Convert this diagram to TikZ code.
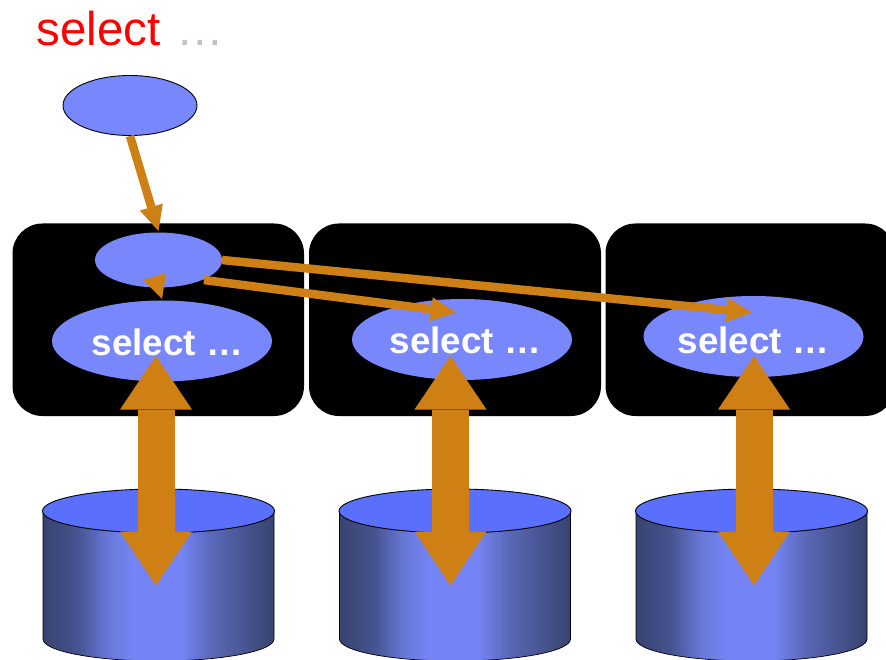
\documentclass[tikz,border=0pt]{standalone}
\usepackage{fontspec}
\setmainfont{Liberation Sans}
\usetikzlibrary{arrows.meta,shapes.geometric}
\definecolor{arrowc}{HTML}{CF8014}
\definecolor{ellc}{HTML}{7888FC}
\definecolor{cylmid}{HTML}{7484F4}
\definecolor{topc}{HTML}{5A70FC}
\definecolor{cdark}{HTML}{38436F}
\definecolor{cdim}{HTML}{46538F}
\definecolor{cmid}{HTML}{6878D8}
\definecolor{cright}{HTML}{5A68B8}
\pgfdeclarehorizontalshading{cylshade}{100bp}{
  color(0bp)=(cdark); color(25bp)=(cdark); color(32.5bp)=(cdim); color(39bp)=(cmid);
  color(44.5bp)=(cylmid); color(55bp)=(cylmid); color(61.5bp)=(cright); color(75bp)=(cdark); color(100bp)=(cdark)}
\tikzset{
  server/.style={fill=black,rounded corners=30pt},
  bigell/.style={ellipse,fill=ellc,minimum width=220pt,minimum height=81pt,inner sep=0pt},
  seltext/.style={anchor=base,inner sep=0pt,text=white,font=\fontsize{36.8}{36.8}\selectfont\bfseries},
  smallell/.style={ellipse,fill=ellc,minimum width=127pt,minimum height=55pt,inner sep=0pt},
  queryell/.style={ellipse,fill=ellc,draw=black,line width=0.9pt,minimum width=134pt,minimum height=60pt,inner sep=0pt},
  cyltop/.style={ellipse,fill=topc,draw=black,line width=0.9pt,minimum width=232pt,minimum height=44pt,inner sep=0pt},
  cylbody/.style={shading=cylshade,draw=black,line width=0.7pt},
  thin arrow/.style={draw=arrowc,line width=8.5pt,-{Triangle[length=25pt,width=24pt,fill=arrowc,line width=0pt]}},
  head only/.style={draw=none,fill=arrowc},
  fat arrow/.style={draw=arrowc,line width=37pt,
    {Triangle[length=53.5pt,width=72pt,fill=arrowc,line width=0pt]}-{Triangle[length=54pt,width=72pt,fill=arrowc,line width=0pt]}}
}
\begin{document}
\begin{tikzpicture}[x=1pt,y=-1pt]
\useasboundingbox (0,0) rectangle (886,660);
\fill[white] (0,0) rectangle (886,660);
% servers
\path[server] (12.5,223.5) rectangle (304,416);
\path[server] (309,223.5) rectangle (601,416);
\path[server] (605.5,223.5) rectangle (895,416);
% cylinders
\foreach \n/\cx in {one/158.5,two/455,three/751.5} {
  \path[cylbody] (\cx-115.5,511) -- (\cx-115.5,639) arc[start angle=180,end angle=360,x radius=115.5,y radius=-22] -- (\cx+115.5,511) -- cycle;
  \node[cyltop] (cyl\n) at (\cx,511) {};
}
% ellipses
\node[queryell] (query) at (130,105.5) {};
\node[smallell] (coord) at (158.5,260) {};
\node[bigell] (selA) at (162,341) {};
\node[bigell] (selB) at (462,339.5) {};
\node[bigell] (selC) at (753.5,336.5) {};
\node[seltext] (txtA) at (167.5,355) {select …};
\node[seltext] (txtB) at (465.5,353) {select …};
\node[seltext] (txtC) at (753.5,353) {select …};
% title
\node[anchor=base west,inner sep=0pt,font=\fontsize{47.5}{47.5}\selectfont] (title) at (36.5,45.5)
  {\textcolor{red}{select}\kern3pt\ \textcolor[HTML]{C4C4C4}{…}};
% connector end points
\coordinate (qout) at (130,136);
\coordinate (cin) at (158.5,231);
\coordinate (cr) at (222,260);
\coordinate (cbr) at (204,280);
\coordinate (ctipB) at (456,312.5);
\coordinate (ctipC) at (752,312.5);
\coordinate (h1) at (143,280);
\coordinate (h2) at (166,273);
\coordinate (h3) at (162,299);
\coordinate (aT) at (156,356);
\coordinate (aB) at (156,585.5);
\coordinate (bT) at (450.5,356);
\coordinate (bB) at (450.5,585.5);
\coordinate (cT) at (754,356);
\coordinate (cB) at (754,585.5);
% connectors
\draw[thin arrow] (qout) -- (cin);
\draw[thin arrow] (cr) -- (ctipC);
\draw[thin arrow] (cbr) -- (ctipB);
\path[head only] (h1) -- (h2) -- (h3) -- cycle;
\draw[fat arrow] (aT) -- (aB);
\draw[fat arrow] (bT) -- (bB);
\draw[fat arrow] (cT) -- (cB);
\end{tikzpicture}
\end{document}
